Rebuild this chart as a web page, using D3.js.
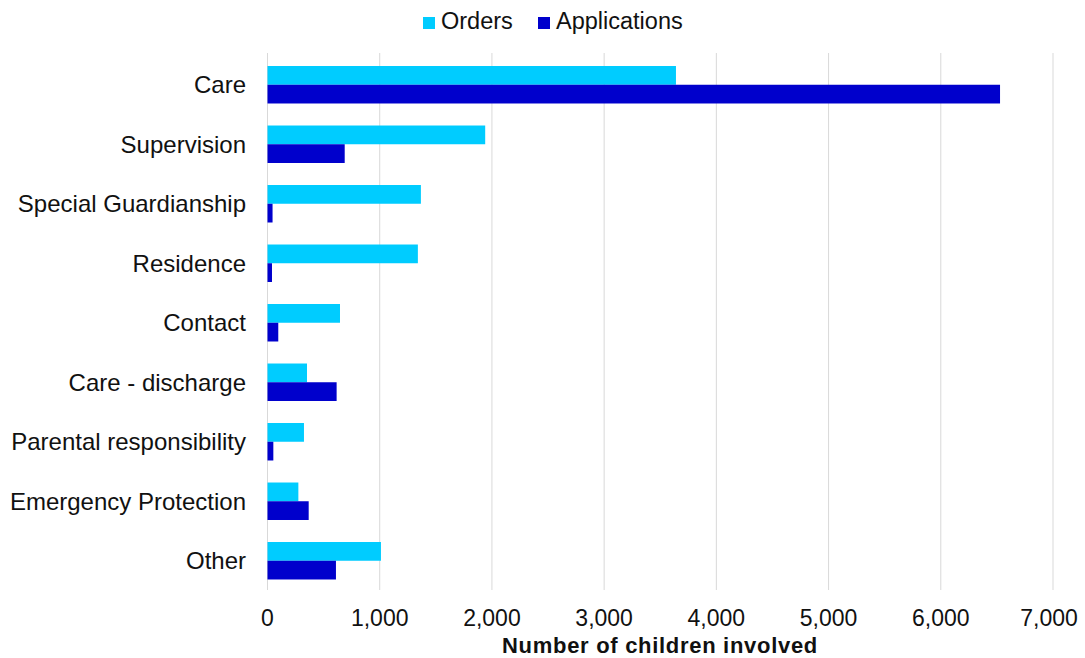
<!DOCTYPE html>
<html>
<head>
<meta charset="utf-8">
<script src="https://cdn.jsdelivr.net/npm/d3@7"></script>
<style>
  html, body { margin: 0; padding: 0; background: #fff; }
  svg { display: block; font-family: "Liberation Sans", Arial, sans-serif; }
</style>
</head>
<body>
<figure id="chart" style="margin:0"></figure>
<script>
// chart data
const categories = ["Care", "Supervision", "Special Guardianship", "Residence", "Contact",
  "Care - discharge", "Parental responsibility", "Emergency Protection", "Other"];
const seriesNames = ["Orders", "Applications"];
const orders = [3640, 1940, 1367, 1340, 646, 352, 325, 275, 1011];
const applications = [6528, 688, 45, 40, 96, 616, 52, 367, 610];
const xTicks = [0, 1000, 2000, 3000, 4000, 5000, 6000, 7000];
const colors = ["#00ccff", "#0000cc"];

const width = 1085, height = 658;
const plot = { left: 267.5, right: 1053, top: 55, bottom: 590.5 };

const svg = d3.select("figure#chart").append("svg")
  .attr("width", width)
  .attr("height", height)
  .attr("viewBox", `0 0 ${width} ${height}`);

const x = d3.scaleLinear().domain([0, 7000]).range([plot.left, plot.right]);
const y0 = d3.scaleBand().domain(categories).range([plot.top, plot.bottom]).padding(0);
const groupH = y0.bandwidth() * 0.63;
const y1 = d3.scaleBand().domain(seriesNames)
  .range([(y0.bandwidth() - groupH) / 2, (y0.bandwidth() + groupH) / 2]);

// gridlines
svg.append("g")
  .selectAll("line")
  .data(xTicks).enter()
  .append("line")
  .attr("x1", (d) => x(d)).attr("x2", (d) => x(d))
  .attr("y1", 53).attr("y2", 590)
  .attr("stroke", "#d9d9d9")
  .attr("stroke-width", 1);

// bars
const rows = categories.map((c, i) => ({ cat: c, vals: [orders[i], applications[i]] }));
const groups = svg.append("g")
  .selectAll("g")
  .data(rows).enter()
  .append("g")
  .attr("transform", (d) => `translate(0,${y0(d.cat)})`);

groups.selectAll("rect")
  .data((d) => d.vals.map((v, i) => ({ name: seriesNames[i], value: v, color: colors[i] })))
  .enter()
  .append("rect")
  .attr("x", x(0))
  .attr("y", (d) => y1(d.name))
  .attr("width", (d) => x(d.value) - x(0))
  .attr("height", y1.bandwidth())
  .attr("fill", (d) => d.color);

// category labels
svg.append("g")
  .selectAll("text")
  .data(categories).enter()
  .append("text")
  .attr("x", 246)
  .attr("y", (d) => y0(d) + y0.bandwidth() / 2)
  .attr("dy", "0.36em")
  .attr("text-anchor", "end")
  .attr("fill", "#111")
  .style("font-size", "24px")
  .text((d) => d);

// x tick labels (last one is pulled in so it stays inside the frame)
svg.append("g")
  .selectAll("text")
  .data(xTicks).enter()
  .append("text")
  .attr("x", (d) => Math.min(x(d), 1049))
  .attr("y", 626)
  .attr("text-anchor", "middle")
  .attr("fill", "#111")
  .style("font-size", "23px")
  .text((d) => d3.format(",")(d));

// x axis title
svg.append("text")
  .attr("x", 660)
  .attr("y", 653)
  .attr("text-anchor", "middle")
  .attr("fill", "#111")
  .style("font-size", "22px")
  .style("font-weight", "bold")
  .style("letter-spacing", "0.7px")
  .text("Number of children involved");

// legend
const legendX = [423, 538];
const legend = svg.append("g")
  .selectAll("g")
  .data(seriesNames).enter()
  .append("g")
  .attr("transform", (d, i) => `translate(${legendX[i]},0)`);
legend.append("rect")
  .attr("x", 0).attr("y", 17)
  .attr("width", 12).attr("height", 12)
  .attr("fill", (d, i) => colors[i]);
legend.append("text")
  .attr("x", 18).attr("y", 29)
  .attr("fill", "#111")
  .style("font-size", "23.5px")
  .text((d) => d);
</script>
</body>
</html>
